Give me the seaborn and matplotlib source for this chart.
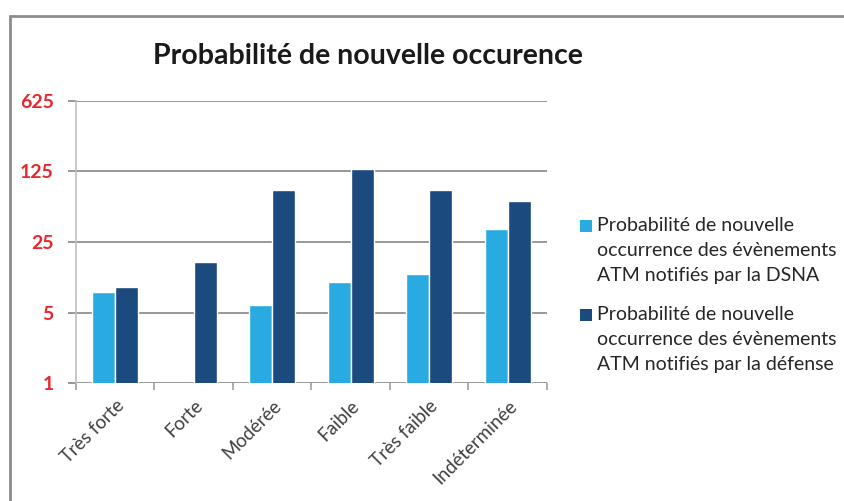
import matplotlib
matplotlib.use("Agg")
import matplotlib.pyplot as plt
import seaborn as sns
import pandas as pd
import numpy as np
from matplotlib.lines import Line2D
from matplotlib.patches import Rectangle

categories = ["Très forte", "Forte", "Modérée", "Faible", "Très faible", "Indéterminée"]
series_names = [
    "Probabilité de nouvelle\noccurrence des évènements\nATM notifiés par la DSNA",
    "Probabilité de nouvelle\noccurrence des évènements\nATM notifiés par la défense",
]
dsna = [8, np.nan, 6, 10, 12, 34]
defense = [9, 16, 82, 132, 82, 64]
yticks = [1, 5, 25, 125, 625]
colors = ["#29ABE2", "#1B4A7E"]

df = pd.DataFrame({
    "cat": categories * 2,
    "serie": [series_names[0]] * 6 + [series_names[1]] * 6,
    "val": dsna + defense,
})

sns.set_style("white")
plt.rcParams["font.family"] = ["Lato", "DejaVu Sans"]

W, H = 845, 501
fig = plt.figure(figsize=(8.45, 5.01), dpi=100)
ax = fig.add_axes([76 / W, 1 - 383 / H, (547 - 76) / W, (383 - 101) / H])
ax.set_yscale("log", base=5)
sns.barplot(data=df, x="cat", y="val", hue="serie", palette=colors, width=0.585,
            ax=ax, saturation=1, legend=False, errorbar=None)
ax.set_ylim(1, 625)
ax.set_xlim(-0.5, 5.5)
ax.set_yticks(yticks)
ax.set_yticklabels([str(t) for t in yticks], color="#E8262B", fontsize=14, fontweight="bold")
ax.yaxis.set_minor_locator(matplotlib.ticker.NullLocator())
ax.set_xlabel("")
ax.set_ylabel("")
ax.grid(axis="y", color="#868686", linewidth=1.2)
ax.set_axisbelow(True)
for s in ["top", "right", "bottom"]:
    ax.spines[s].set_visible(False)
ax.spines["left"].set_color("#BFBFBF")
ax.spines["left"].set_linewidth(1.2)
ax.tick_params(axis="y", which="major", left=True, length=6, color="#868686", width=1.2, pad=10)
ax.set_xticks(np.arange(6))
ax.set_xticklabels(categories, rotation=45, ha="right", rotation_mode="anchor",
                   fontsize=13.5, color="#404040")
ax.tick_params(axis="x", which="major", length=0, pad=10)
ax.set_xticks(np.arange(-0.5, 6.0, 1), minor=True)
ax.tick_params(axis="x", which="minor", bottom=True, length=5, color="#A0A0A0", width=1.2)

fig.text(0.5 * (153 + 582) / W, 1 - 56 / H, "Probabilité de nouvelle occurence",
         ha="center", va="center", fontsize=20.5, fontweight="bold", color="#1A1A1A")

# legend drawn manually: square aligned with the first text line
for i, (name, c) in enumerate(zip(series_names, colors)):
    y0 = 225.5 + i * 89
    fig.add_artist(Rectangle((580 / W, 1 - (y0 + 6) / H), 12 / W, 12 / H,
                             transform=fig.transFigure, facecolor=c, edgecolor="none"))
    for j, line in enumerate(name.split("\n")):
        fig.text(597 / W, 1 - (y0 + 25 * j) / H, line, ha="left", va="center",
                 fontsize=14, color="#262626")

fig.add_artist(Line2D([10 / W, 10 / W], [0, 1 - 16 / H], transform=fig.transFigure,
                      color="#8C8C8C", linewidth=2))
fig.add_artist(Line2D([10 / W, 1], [1 - 16 / H, 1 - 16 / H], transform=fig.transFigure,
                      color="#8C8C8C", linewidth=2))

fig.savefig("out.png", dpi=100)
